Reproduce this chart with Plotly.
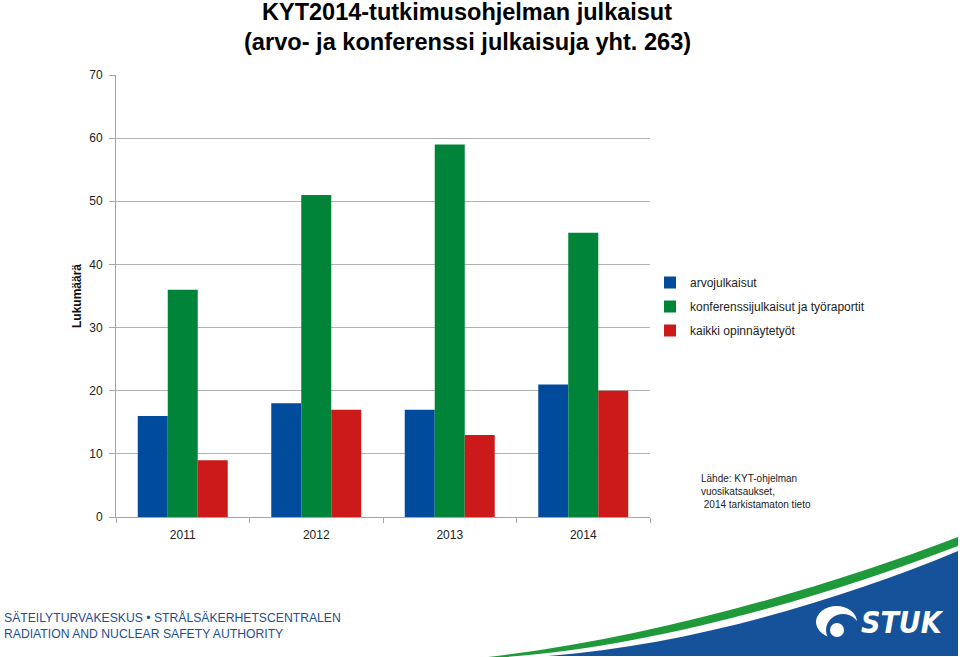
import plotly.graph_objects as go

years = ["2011", "2012", "2013", "2014"]
arvo = [16, 18, 17, 21]
konferenssi = [36, 51, 59, 45]
opinnayte = [9, 17, 13, 20]
series_names = ["arvojulkaisut", "konferenssijulkaisut ja työraportit", "kaikki opinnäytetyöt"]
colors = ["#004B9B", "#00843A", "#CC1A1A"]
y_ticks = [0, 10, 20, 30, 40, 50, 60, 70]

W, H = 960, 657
L, R, T, B = 116, 310, 75, 140
PW, PH = W - L - R, H - T - B


def px(x):
    return (x - L) / PW


def py(y):
    return (H - B - y) / PH


def path(pts_cmds):
    out = []
    for cmd, pts in pts_cmds:
        s = cmd + " " + " ".join(f"{px(a):.5f},{py(b):.5f}" for a, b in pts)
        out.append(s)
    return " ".join(out) + " Z"


fig = go.Figure()
for name, vals, col in zip(series_names, [arvo, konferenssi, opinnayte], colors):
    fig.add_trace(go.Bar(x=years, y=vals, name=name, marker=dict(color=col, line=dict(width=0)),
                         legendgroup=name))

font_main = "Liberation Sans, Arial, sans-serif"

fig.update_layout(
    width=W, height=H,
    margin=dict(l=L, r=R, t=T, b=B),
    paper_bgcolor="white", plot_bgcolor="white",
    barmode="group", bargap=0.326, bargroupgap=0,
    font=dict(family=font_main, size=12, color="#222222"),
    showlegend=True,
    legend=dict(x=px(650), y=py(268), xanchor="left", yanchor="top",
                font=dict(size=12, color="#222222"), tracegroupgap=5,
                itemwidth=30, bgcolor="rgba(0,0,0,0)"),
    xaxis=dict(type="category", showgrid=False, showline=True, linecolor="#a6a6a6", linewidth=1,
               ticks="outside", tickson="boundaries", ticklen=5, tickcolor="#a6a6a6",
               ticklabelstandoff=7,
               tickfont=dict(size=12, color="#222222")),
    yaxis=dict(range=[0, 70], tickvals=y_ticks, showgrid=True, gridcolor="#b3b3b3", gridwidth=1,
               showline=True, linecolor="#a6a6a6", linewidth=1, ticks="outside", ticklen=6,
               ticklabelstandoff=4,
               tickcolor="#a6a6a6", zeroline=False, tickfont=dict(size=12, color="#222222"),
               title=dict(text="<b>Lukumäärä</b>", font=dict(size=12, color="#111111"), standoff=5)),
)

# Title
fig.add_annotation(text="<b>KYT2014-tutkimusohjelman julkaisut</b>", xref="paper", yref="paper",
                   x=px(467), y=py(12), xanchor="center", yanchor="middle", showarrow=False,
                   font=dict(family=font_main, size=23.5, color="#000000"))
fig.add_annotation(text="<b>(arvo- ja konferenssi julkaisuja yht. 263)</b>", xref="paper", yref="paper",
                   x=px(467), y=py(42), xanchor="center", yanchor="middle", showarrow=False,
                   font=dict(family=font_main, size=23.6, color="#000000"))

# Source note
fig.add_annotation(text="Lähde: KYT-ohjelman<br>vuosikatsaukset,<br> 2014 tarkistamaton tieto",
                   xref="paper", yref="paper", x=px(699), y=py(471), xanchor="left", yanchor="top",
                   align="left", showarrow=False, font=dict(size=10, color="#222222"))

# Footer text
fig.add_annotation(text="SÄTEILYTURVAKESKUS • STRÅLSÄKERHETSCENTRALEN", xref="paper", yref="paper",
                   x=px(2), y=py(617), xanchor="left", yanchor="middle", showarrow=False,
                   font=dict(size=12.2, color="#1d4f91"))
fig.add_annotation(text="RADIATION AND NUCLEAR SAFETY AUTHORITY", xref="paper", yref="paper",
                   x=px(2), y=py(634), xanchor="left", yanchor="middle", showarrow=False,
                   font=dict(size=12.2, color="#1d4f91"))

# Decorative logo swoosh
green_path = path([
    ("M", [(488, 657)]),
    ("C", [(640, 640), (820, 590), (958, 537)]),
    ("L", [(958, 546)]),
    ("C", [(822, 598), (650, 647), (505, 657)]),
])
blue_path = path([
    ("M", [(548, 656)]),
    ("C", [(690, 645), (840, 600), (958, 551)]),
    ("L", [(958, 656)]),
])
fig.add_shape(type="path", path=green_path, xref="paper", yref="paper",
              fillcolor="#1F9A3A", line=dict(width=0), layer="above")
fig.add_shape(type="path", path=blue_path, xref="paper", yref="paper",
              fillcolor="#16529A", line=dict(width=0), layer="above")
# swirl icon
fig.add_shape(type="circle", xref="paper", yref="paper", x0=px(816), x1=px(857), y0=py(638), y1=py(606),
              fillcolor="white", line=dict(width=0), layer="above")
fig.add_shape(type="circle", xref="paper", yref="paper", x0=px(826), x1=px(860), y0=py(646), y1=py(614),
              fillcolor="#16529A", line=dict(width=0), layer="above")
fig.add_shape(type="circle", xref="paper", yref="paper", x0=px(830), x1=px(844), y0=py(637), y1=py(623),
              fillcolor="white", line=dict(width=0), layer="above")
fig.add_annotation(text="<b><i>STUK</i></b>", xref="paper", yref="paper", x=px(902), y=py(622),
                   xanchor="center", yanchor="middle", showarrow=False,
                   font=dict(family="DejaVu Sans Condensed, Liberation Sans, sans-serif", size=30, color="white"))

fig.write_html("out.html")
